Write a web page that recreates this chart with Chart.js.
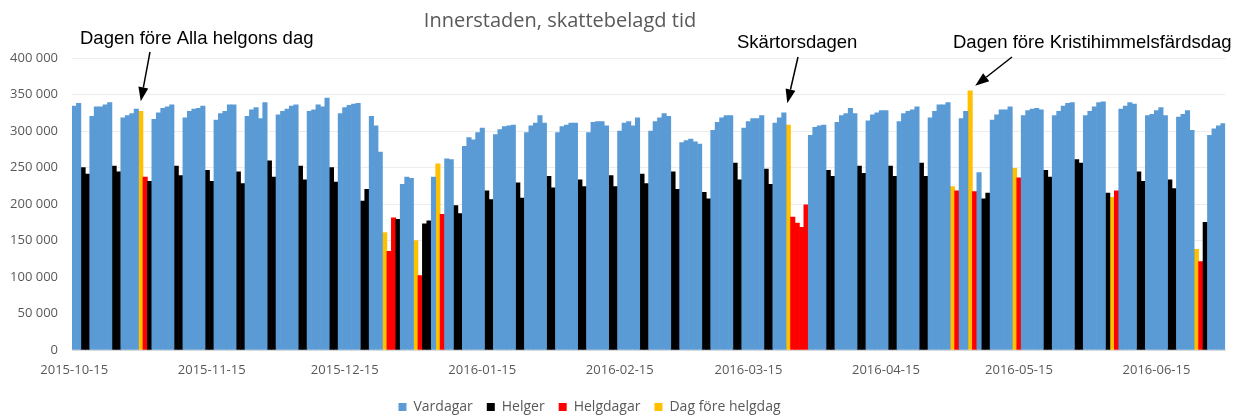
<!DOCTYPE html>
<html>
<head>
<meta charset="utf-8">
<script src="https://cdn.jsdelivr.net/npm/chart.js@4.4.1/dist/chart.umd.min.js"></script>
<style>
  html, body { margin: 0; padding: 0; background: #fff; }
  #wrap { width: 1235px; height: 416px; }
</style>
</head>
<body>
<div id="wrap"><canvas id="myChart"></canvas></div>
<script>
// one array per month, values in thousands
const months = ['2015-10', '2015-11', '2015-12', '2016-01', '2016-02', '2016-03', '2016-04', '2016-05', '2016-06'];
const firstDay = [15, 1, 1, 1, 1, 1, 1, 1, 1];

const oct15 = [334, 338, 250, 241, 320, 333, 333, 336, 339, 252, 244, 318, 321, 324, 330, 327, 237];
const nov15 = [231, 316, 325, 331, 333, 336, 252, 239, 318, 327, 330, 331, 334, 246, 231, 315, 324, 327, 336, 336, 244, 228, 320, 329, 332, 317, 339, 259, 237, 322];
const dec15 = [327, 330, 334, 336, 252, 233, 327, 329, 336, 333, 345, 250, 230, 324, 332, 335, 337, 338, 204, 220, 320, 307, 271, 161, 135, 181, 179, 227, 237, 235, 150];
const jan16 = [102, 173, 177, 237, 255, 186, 262, 261, 198, 187, 279, 291, 288, 298, 304, 218, 206, 295, 302, 306, 307, 308, 229, 208, 298, 307, 311, 321, 311, 238, 222];
const feb16 = [298, 306, 308, 311, 311, 233, 224, 298, 312, 313, 313, 307, 239, 224, 300, 311, 313, 307, 318, 241, 228, 300, 313, 318, 324, 320, 244, 220, 284];
const mar16 = [287, 289, 285, 282, 216, 207, 301, 312, 318, 321, 321, 256, 233, 304, 313, 317, 317, 321, 248, 227, 311, 318, 325, 308, 182, 174, 168, 199, 294, 305, 307];
const apr16 = [308, 246, 238, 312, 321, 324, 331, 324, 252, 242, 314, 322, 325, 328, 328, 252, 238, 313, 324, 327, 329, 333, 256, 238, 318, 327, 336, 336, 339, 224];
const may16 = [218, 317, 327, 355, 217, 243, 207, 215, 315, 322, 329, 329, 333, 249, 236, 321, 328, 330, 331, 329, 246, 237, 321, 327, 334, 338, 339, 261, 256, 321, 327];
const jun16 = [333, 339, 340, 215, 209, 218, 330, 334, 339, 337, 244, 231, 321, 323, 328, 332, 321, 233, 221, 319, 323, 328, 301, 138, 121, 175, 294, 303, 307, 310];
const monthValues = [oct15, nov15, dec15, jan16, feb16, mar16, apr16, may16, jun16];

// V = vardag, H = helg, R = helgdag, Y = dag före helgdag
const dayTypes = [
  'VVHHVVVVVHHVVVVYR',
  'HVVVVVHHVVVVVHHVVVVVHHVVVVVHHV',
  'VVVVHHVVVVVHHVVVVVHHVVVYRRHVVVY',
  'RHHVYRVVHHVVVVVHHVVVVVHHVVVVVHH',
  'VVVVVHHVVVVVHHVVVVVHHVVVVVHHV',
  'VVVVHHVVVVVHHVVVVVHHVVVYRRRRVVV',
  'VHHVVVVVHHVVVVVHHVVVVVHHVVVVVY',
  'RVVYRVHHVVVVVYRVVVVVHHVVVVVHHVV',
  'VVVHYRVVVVHHVVVVVHHVVVVYRHVVVV'
];

const seriesNames = ['Vardagar', 'Helger', 'Helgdagar', 'Dag före helgdag'];
const seriesCodes = ['V', 'H', 'R', 'Y'];
const seriesColors = ['#5B9BD5', '#000000', '#FF0000', '#FFC000'];

const labels = [];
const series = [[], [], [], []];
months.forEach((m, mi) => {
  monthValues[mi].forEach((v, d) => {
    const day = firstDay[mi] + d;
    labels.push(m + '-' + String(day).padStart(2, '0'));
    const t = dayTypes[mi][d];
    seriesCodes.forEach((c, si) => series[si].push(t === c ? v * 1000 : null));
  });
});

// annotations: text, text position, arrow start, which bar it points at
const notes = [
  { text: 'Dagen före Alla helgons dag', tx: 80, ty: 39, sx: 150, sy: 52, date: '2015-10-30', dx: 0, gap: 10 },
  { text: 'Skärtorsdagen', tx: 737, ty: 43, sx: 798, sy: 57, date: '2016-03-24', dx: -1, gap: 22 },
  { text: 'Dagen före Kristihimmelsfärdsdag', tx: 953, ty: 43, sx: 1012, sy: 57, date: '2016-05-04', dx: 5, gap: 5 }
];

function fmt(v) {
  return String(v).replace(/\B(?=(\d{3})+(?!\d))/g, ' ');
}

const overlay = {
  id: 'overlay',
  afterLayout(chart) {
    // the legend sits a bit left of the canvas centre in the original
    chart.legend.left -= 26;
    chart.legend.right -= 26;
  },
  afterDraw(chart) {
    const ctx = chart.ctx;
    const xs = chart.scales.x, ys = chart.scales.y;
    ctx.save();
    ctx.fillStyle = '#595959';
    ctx.font = '20px "Open Sans"';
    ctx.textAlign = 'center';
    ctx.textBaseline = 'middle';
    ctx.fillText('Innerstaden, skattebelagd tid', 560, 21);

    ctx.font = '18.5px "Liberation Sans", Arial';
    ctx.textAlign = 'left';
    notes.forEach(n => {
      const i = labels.indexOf(n.date);
      let val = 0;
      series.forEach(s => { if (s[i] != null) val = s[i]; });
      const ex = xs.getPixelForValue(i) + n.dx;
      const ey = ys.getPixelForValue(val) - n.gap;
      ctx.fillStyle = '#000';
      ctx.fillText(n.text, n.tx, n.ty);
      const ang = Math.atan2(ey - n.sy, ex - n.sx);
      const hl = 14, hw = 5;
      const bx = ex - hl * Math.cos(ang), by = ey - hl * Math.sin(ang);
      ctx.strokeStyle = '#000';
      ctx.lineWidth = 1.5;
      ctx.beginPath();
      ctx.moveTo(n.sx, n.sy);
      ctx.lineTo(bx, by);
      ctx.stroke();
      ctx.beginPath();
      ctx.moveTo(ex, ey);
      ctx.lineTo(bx + hw * Math.sin(ang), by - hw * Math.cos(ang));
      ctx.lineTo(bx - hw * Math.sin(ang), by + hw * Math.cos(ang));
      ctx.closePath();
      ctx.fill();
    });
    ctx.restore();
  }
};

const data = {
  labels: labels,
  datasets: seriesNames.map((name, si) => ({
    label: name,
    data: series[si],
    backgroundColor: seriesColors[si],
    borderWidth: 0,
    barPercentage: 1,
    categoryPercentage: 1
  }))
};

const config = {
  type: 'bar',
  data: data,
  options: {
    responsive: true,
    maintainAspectRatio: false,
    animation: false,
    layout: { padding: { left: 0, right: 4, top: 58, bottom: 0 } },
    plugins: {
      title: { display: false },
      tooltip: { enabled: false },
      legend: {
        position: 'bottom',
        maxHeight: 30,
        labels: {
          boxWidth: 8,
          boxHeight: 8,
          padding: 14,
          color: '#595959',
          font: { family: 'Open Sans', size: 14 }
        }
      }
    },
    scales: {
      x: {
        stacked: true,
        grid: { display: false, drawTicks: false },
        border: { color: '#d9d9d9' },
        afterFit: s => { s.height = 36; },
        ticks: {
          autoSkip: false,
          maxRotation: 0,
          padding: 12,
          color: '#595959',
          font: { family: 'Open Sans', size: 13 },
          callback: (v, i) => labels[i].endsWith('-15') ? labels[i] : ''
        }
      },
      y: {
        stacked: true,
        min: 0,
        max: 400000,
        grid: { color: '#ececec', drawTicks: false },
        border: { display: false },
        afterFit: s => { s.width = 72; },
        ticks: {
          stepSize: 50000,
          padding: 14,
          color: '#595959',
          font: { family: 'Open Sans', size: 13 },
          callback: v => fmt(v)
        }
      }
    }
  },
  plugins: [overlay]
};

const myChart = new Chart(document.getElementById('myChart'), config);
</script>
</body>
</html>
